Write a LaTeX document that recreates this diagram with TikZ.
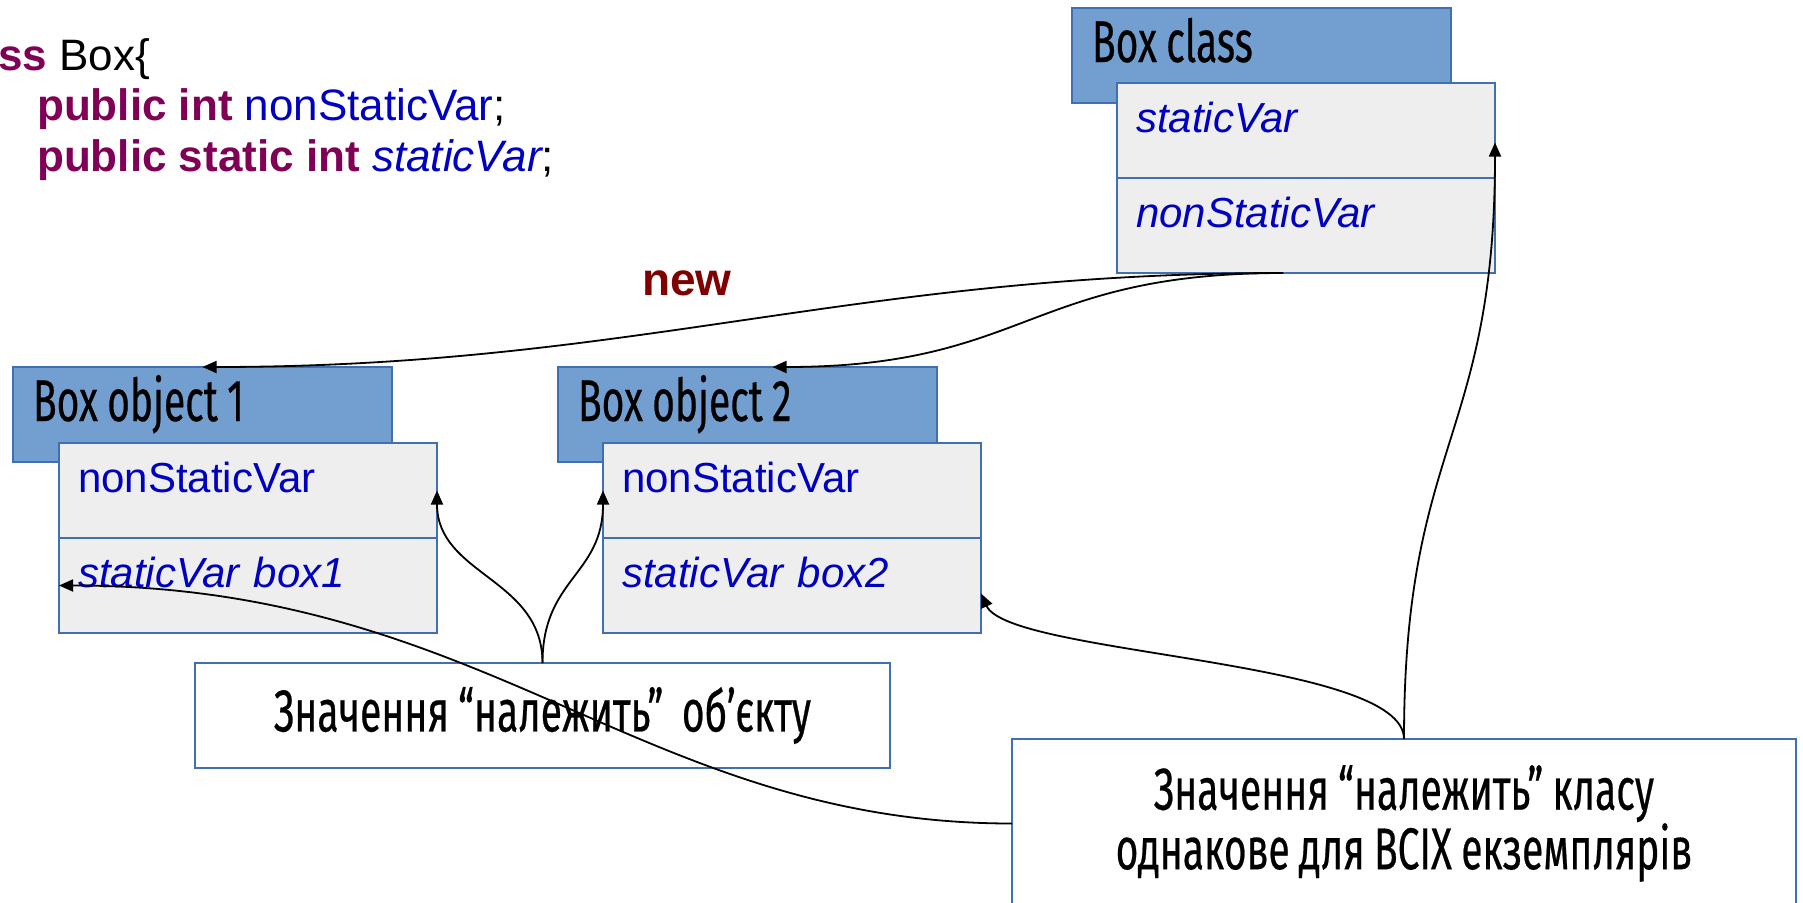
\documentclass[tikz,border=0pt]{standalone}
\usepackage{fontspec}
\setmainfont{Liberation Sans}
\newfontfamily\oswald[FakeStretch=0.66, FakeBold=0.4, WordSpace=0.9]{Fira Sans}
\usetikzlibrary{arrows.meta, positioning}
\definecolor{kw}{RGB}{127,0,85}
\definecolor{fldblue}{RGB}{0,0,192}
\definecolor{newred}{RGB}{128,0,0}
\definecolor{hdrfill}{RGB}{114,159,207}
\definecolor{boxline}{RGB}{64,112,178}
\definecolor{fldfill}{RGB}{238,238,238}

\begin{document}
\begin{tikzpicture}[
    x=1pt, y=-1pt,
    >={Triangle[length=14pt, width=12pt]},
    hdr/.style={draw=boxline, fill=hdrfill, line width=2pt, outer sep=0pt,
        inner xsep=20pt, inner ysep=0pt, text width=339pt,
        text height=54pt, text depth=41pt, align=left,
        execute at begin node={\spaceskip=0pt\relax},
        font=\oswald\fontsize{59}{60}\selectfont},
    fld/.style={draw=boxline, fill=fldfill, line width=2pt, outer sep=0pt,
        inner xsep=19pt, inner ysep=0pt, text width=340pt,
        text height=49pt, text depth=46pt, align=left, text=fldblue,
        font=\fontsize{42}{45}\selectfont},
    note/.style={draw=boxline, fill=white, line width=2pt, outer sep=0pt,
        align=center, font=\oswald\fontsize{59}{57}\selectfont},
    code/.style={anchor=base west, inner sep=0pt, font=\fontsize{44}{50}\selectfont},
    link/.style={->, line width=1.8pt}
]
\useasboundingbox (0,0) rectangle (1803,902);
\clip (0,0) rectangle (1803,902);

% Code
\node[code] (line1) at (-63,70) {\textcolor{kw}{\bfseries class} Box\{};
\node[code] (line2) at (37,120) {\textcolor{kw}{\bfseries public int} \textcolor{fldblue}{nonStaticVar};};
\node[code] (line3) at (37,171) {\textcolor{kw}{\bfseries public static int} \textcolor{fldblue}{\itshape staticVar};};

% Class
\node[hdr, anchor=north west] (chead) at (1072,8) {Box class};
\node[fld, anchor=north west] (ctop) at (1117,83) {\itshape staticVar};
\node[fld, below=0pt of ctop] (cbot) {\itshape nonStaticVar};

% Objects
\node[hdr, anchor=north west] (h1) at (13,367) {Box object 1};
\node[fld, anchor=north west] (b1top) at (59,443) {nonStaticVar};
\node[fld, below=0pt of b1top] (b1bot) {\itshape staticVar box1};

\node[hdr, anchor=north west] (h2) at (558,367) {Box object 2};
\node[fld, anchor=north west] (b2top) at (603,443) {nonStaticVar};
\node[fld, below=0pt of b2top] (b2bot) {\itshape staticVar box2};

\node[text=newred, font=\bfseries\fontsize{46}{50}\selectfont, anchor=base west, inner sep=0pt] (new) at (642,295) {new};

% Notes
\node[note, minimum width=695pt, minimum height=105pt] (own) at (542.5,715.5) {Значення “належить”~ об’єкту};
\node[note, minimum width=784pt, minimum height=169pt, anchor=north west] (shared) at (1012,739)
    {Значення “належить” класу\\однакове для ВСІХ екземплярів};

% Connectors
\draw[link] ([xshift=-23pt]cbot.south) .. controls +(-430,0) and +(430,0) .. (h1.north);
\draw[link] ([xshift=-23pt]cbot.south) .. controls +(-255,0) and +(255,0) .. ([xshift=25pt]h2.north);
\draw[link] (own.north) .. controls +(0,-85) and +(0,85) .. (b1top.east);
\draw[link] (own.north) .. controls +(0,-85) and +(0,85) .. (b2top.west);
\draw[link] (shared.north) .. controls +(0,-298) and +(0,298) .. ([yshift=-12pt]ctop.east);
\draw[link] (shared.north) .. controls +(0,-80) and +(28,62) .. ([yshift=-8pt]b2bot.east);
\draw[link] (shared.west) .. controls +(-370,0) and +(430,0) .. (b1bot.west);

\end{tikzpicture}
\end{document}
